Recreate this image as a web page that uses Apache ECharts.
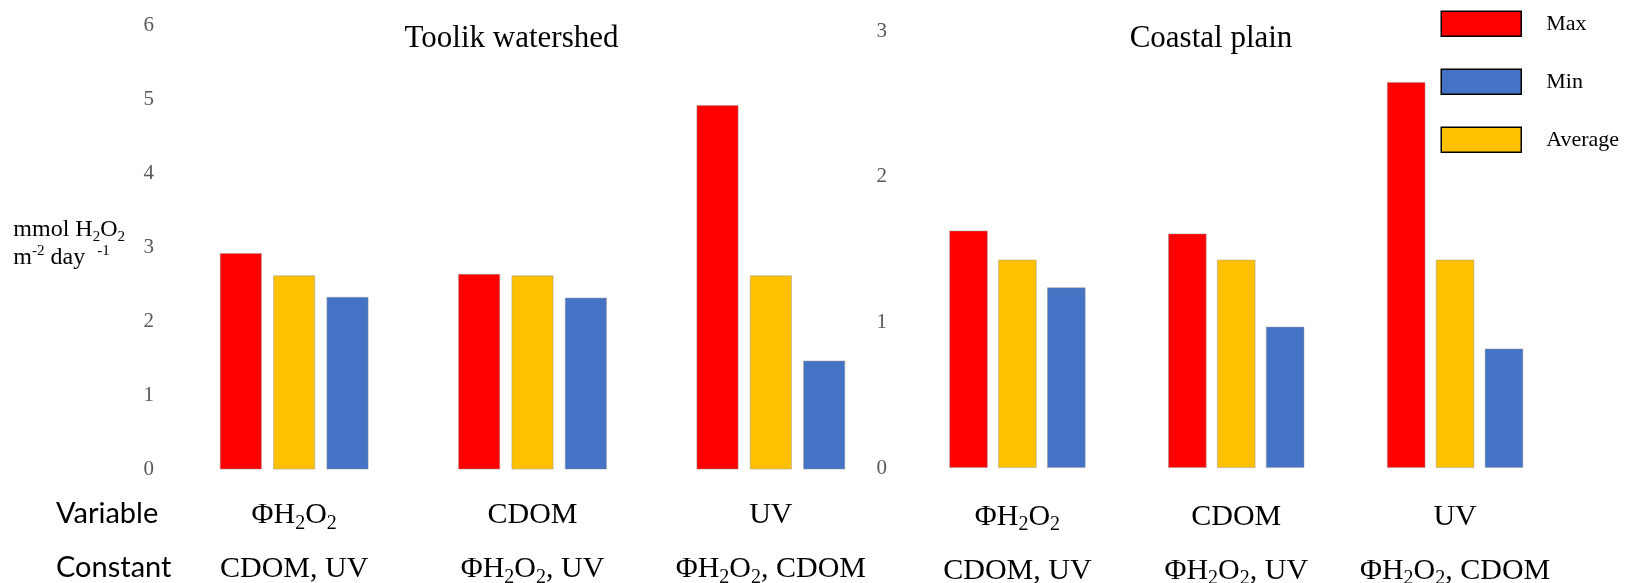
<!DOCTYPE html>
<html><head><meta charset="utf-8">
<script src="https://cdn.jsdelivr.net/npm/echarts@6/dist/echarts.min.js"></script>
<style>html,body{margin:0;padding:0;background:#fff}#c{width:1627px;height:583px}</style>
</head><body><div id="c"></div>
<script>
const panelTitles = ['Toolik watershed', 'Coastal plain'];
const seriesNames = ['Max', 'Average', 'Min'];
const legendOrder = ['Max', 'Min', 'Average'];
const categories = ['PhiH2O2', 'CDOM', 'UV'];
const variableLabels = ['{t|ΦH}{s|2}{t|O}{s|2}', '{t|CDOM}', '{t|UV}'];
const constantLabels = ['{t|CDOM, UV}', '{t|ΦH}{s|2}{t|O}{s|2}{t|, UV}', '{t|ΦH}{s|2}{t|O}{s|2}{t|, CDOM}'];
const rowHeaders = ['Variable', 'Constant'];
const yAxisName = '{a|mmol H}{b|2}{a|O}{b|2}\n{a|m}{p|-2}{a| day  }{p|-1}';
const toolikMax = [2.92, 2.64, 4.92];
const toolikAvg = [2.62, 2.62, 2.62];
const toolikMin = [2.33, 2.32, 1.47];
const coastalMax = [1.63, 1.61, 2.65];
const coastalAvg = [1.43, 1.43, 1.43];
const coastalMin = [1.24, 0.97, 0.82];
const leftAxis = {min: 0, max: 6, interval: 1};
const rightAxis = {min: 0, max: 3, interval: 1};
const colors = {Max: '#FF0000', Average: '#FFC000', Min: '#4472C4'};

const SERIF = '"Liberation Serif", "Times New Roman", serif';
const catRich = {
  t: {fontSize: 30, lineHeight: 54, fontFamily: SERIF, color: '#000'},
  s: {fontSize: 20, lineHeight: 20, padding: [16, 0, 0, 0], fontFamily: SERIF, color: '#000'}
};
function xAxisFor(gi, margin) {
  return {
    type: 'category', gridIndex: gi, data: categories,
    axisLine: {show: false}, axisTick: {show: false},
    axisLabel: {interval: 0, margin: margin, rich: catRich,
      formatter: (v, i) => variableLabels[i] + '\n' + constantLabels[i]}
  };
}
function yAxisFor(gi, ax, extra) {
  return Object.assign({
    type: 'value', gridIndex: gi, min: ax.min, max: ax.max, interval: ax.interval,
    axisLine: {show: false}, axisTick: {show: false}, splitLine: {show: false},
    axisLabel: {margin: 21, color: '#595959', fontSize: 21, fontFamily: SERIF}
  }, extra || {});
}
const data = [
  {Max: toolikMax, Average: toolikAvg, Min: toolikMin},
  {Max: coastalMax, Average: coastalAvg, Min: coastalMin}
];
const series = [];
[0, 1].forEach(gi => {
  seriesNames.forEach(n => {
    series.push({
      name: n, type: 'bar', xAxisIndex: gi, yAxisIndex: gi,
      data: data[gi][n], barWidth: gi === 0 ? 42 : 38.5, barGap: '27%',
      itemStyle: {color: colors[n], borderColor: 'rgba(150,150,150,0.6)', borderWidth: 0.8},
      emphasis: {disabled: true}
    });
  });
});

const chart = echarts.init(document.getElementById('c'));
chart.setOption({
  animation: false,
  backgroundColor: '#fff',
  title: [
    {text: panelTitles[0], left: 511.5, top: 23, textAlign: 'center', padding: 0,
     textStyle: {fontSize: 31, fontWeight: 'normal', fontFamily: SERIF, color: '#000'}},
    {text: panelTitles[1], left: 1211, top: 23, textAlign: 'center', padding: 0,
     textStyle: {fontSize: 31, fontWeight: 'normal', fontFamily: SERIF, color: '#000'}}
  ],
  legend: {
    data: legendOrder, orient: 'vertical', left: 1440.5, top: 10.5, padding: 0,
    itemWidth: 80, itemHeight: 25, itemGap: 31.5, icon: 'rect',
    itemStyle: {borderColor: '#000', borderWidth: 1.5},
    textStyle: {fontSize: 22, fontFamily: SERIF, color: '#000', padding: [0, 0, 0, 20]},
    selectedMode: false
  },
  grid: [
    {left: 175, width: 715, top: 25, height: 444.5, outerBoundsMode: 'none', containLabel: false},
    {left: 908, width: 656.5, top: 31, height: 437, outerBoundsMode: 'none', containLabel: false}
  ],
  xAxis: [xAxisFor(0, 19), xAxisFor(1, 22)],
  yAxis: [
    yAxisFor(0, leftAxis, {
      name: yAxisName, nameLocation: 'middle', nameRotate: 0, nameGap: 50,
      nameTextStyle: {align: 'right', padding: [0, 0, 8, 0], rich: {
        a: {fontSize: 24, lineHeight: 28, fontFamily: SERIF, color: '#000', align: 'left'},
        b: {fontSize: 15, lineHeight: 12, padding: [15, 0, 0, 0], fontFamily: SERIF, color: '#000', align: 'left'},
        p: {fontSize: 15, lineHeight: 12, padding: [0, 0, 12, 0], fontFamily: SERIF, color: '#000', align: 'left'}
      }}
    }),
    yAxisFor(1, rightAxis)
  ],
  graphic: rowHeaders.map((t, i) => ({
    type: 'text', left: 56, top: i === 0 ? 499.5 : 553.5,
    style: {text: t, font: '29px Lato, "Liberation Sans", sans-serif', fill: '#000'}
  })),
  series: series
});
</script>
</body></html>
